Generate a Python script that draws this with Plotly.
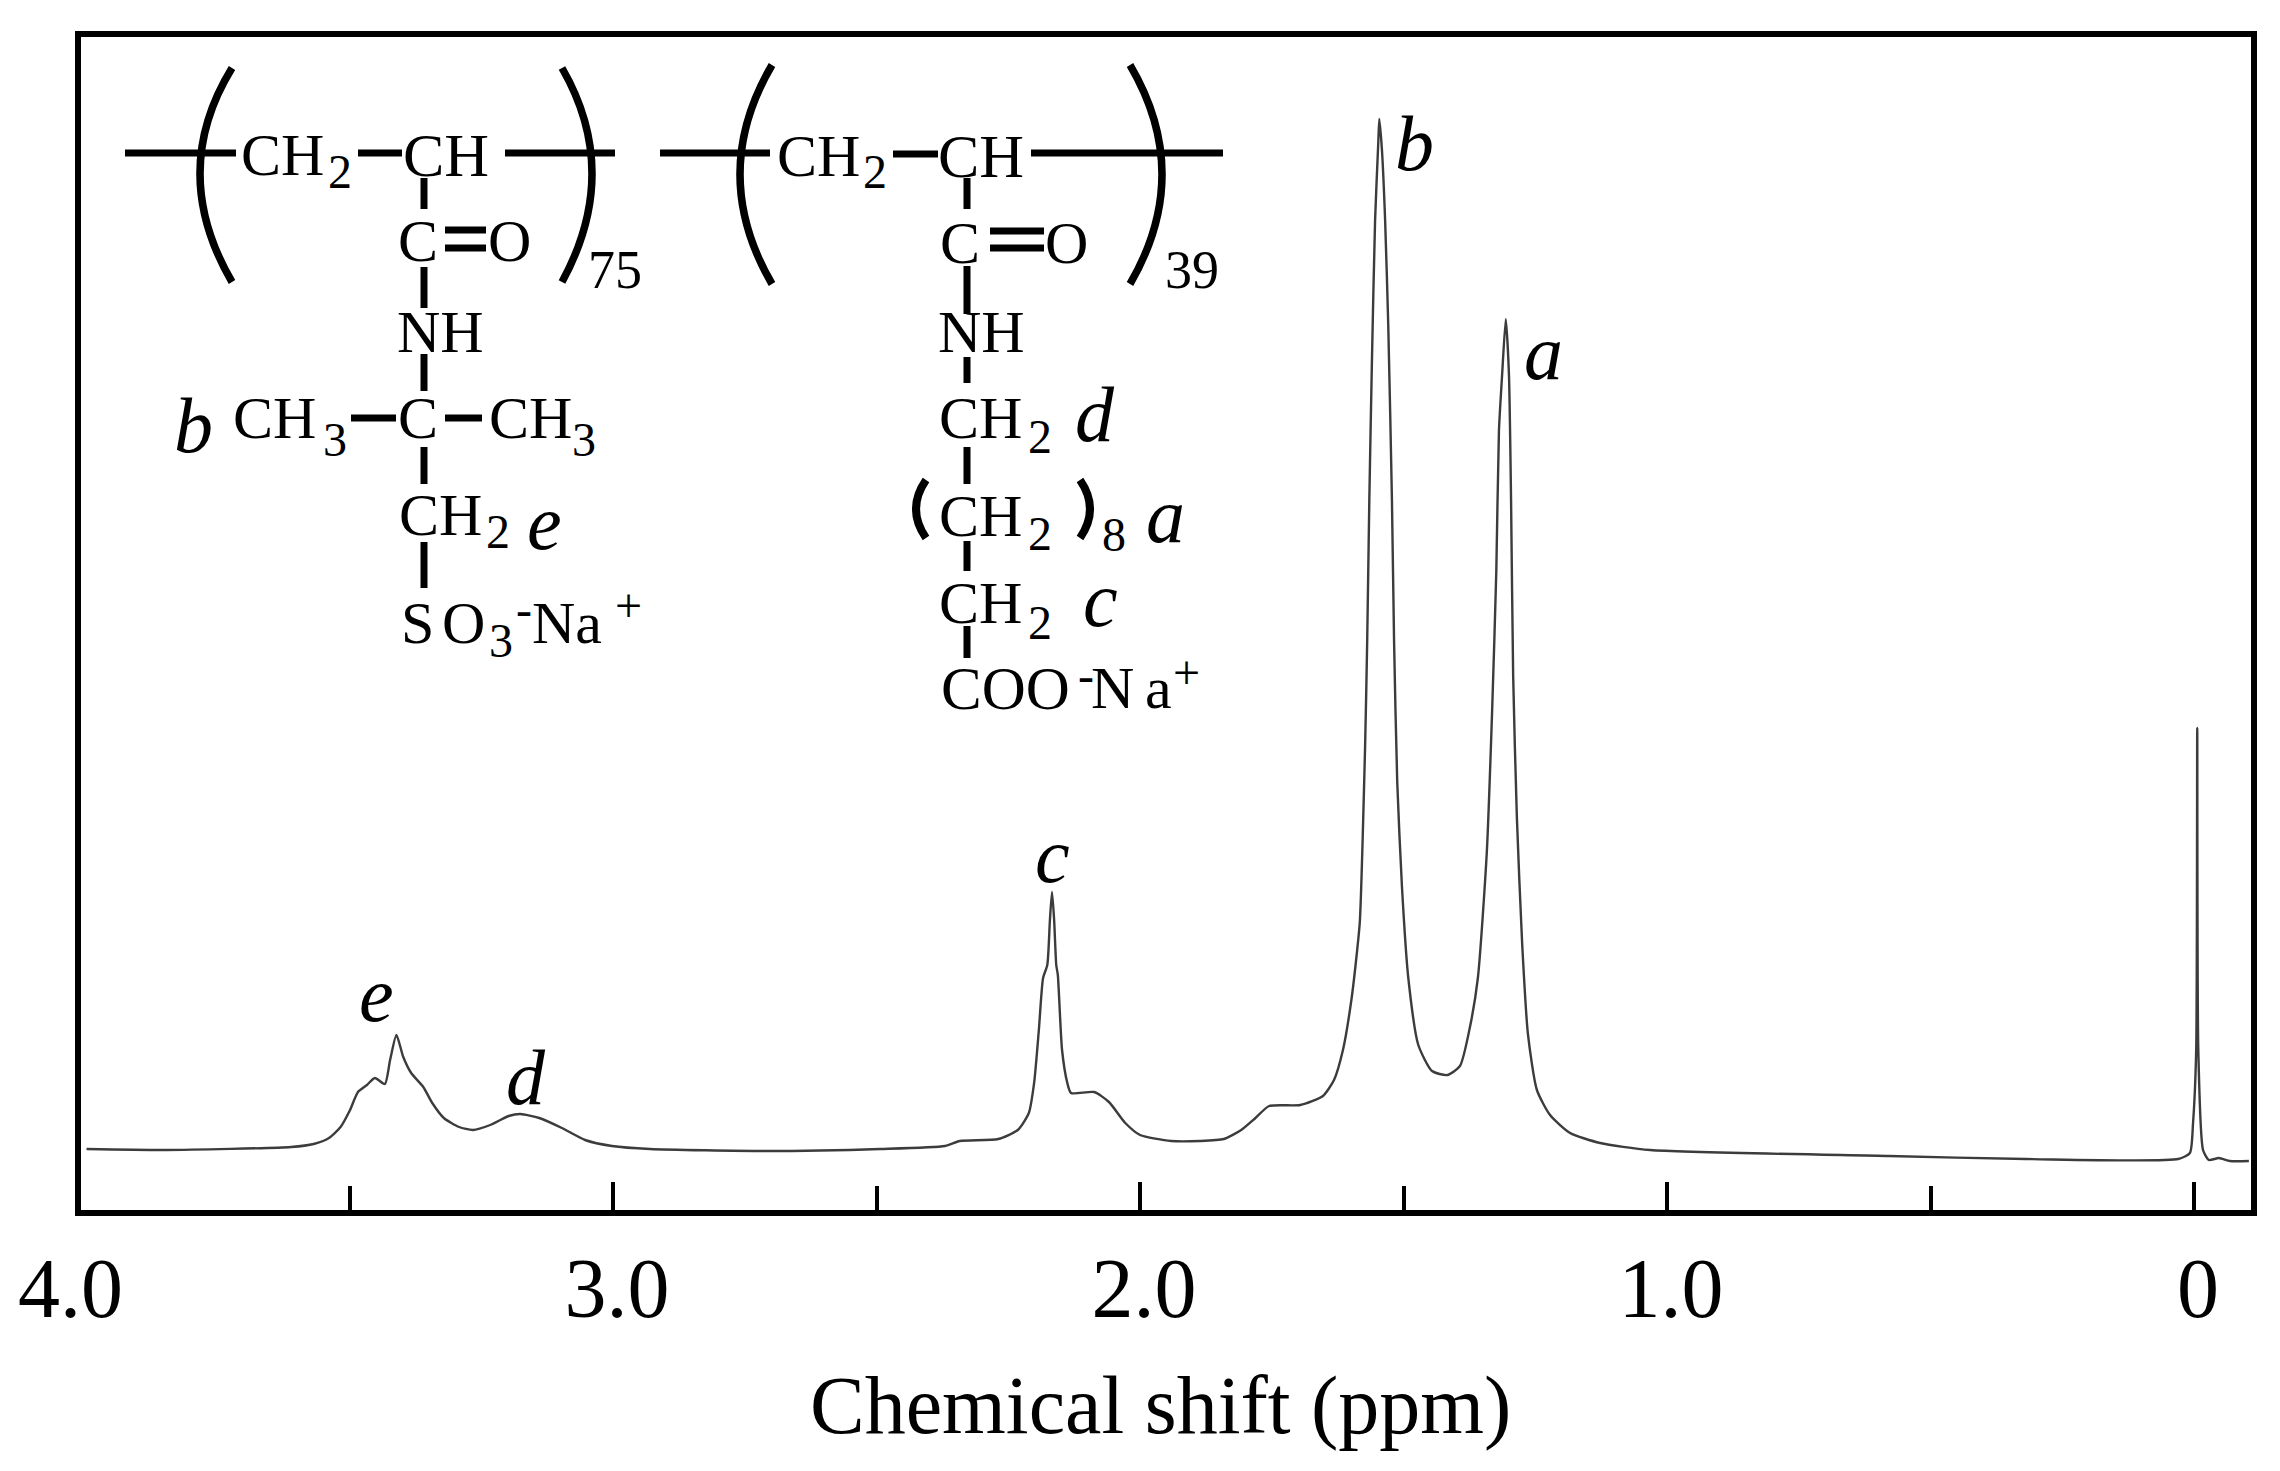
import plotly.graph_objects as go

# 1H NMR spectrum, intensity in arbitrary units
ppm = [3.999, 3.85, 3.611, 3.568, 3.539, 3.517, 3.499, 3.484, 3.467, 3.452, 3.433, 3.423, 3.411, 3.398, 3.383,
       3.360, 3.343, 3.321, 3.292, 3.266, 3.233, 3.198, 3.176, 3.140, 3.097, 3.053, 3.002, 2.930, 2.712, 2.493,
       2.370, 2.342, 2.269, 2.232, 2.211, 2.201, 2.192, 2.184, 2.176, 2.171, 2.167, 2.163, 2.159, 2.156, 2.148,
       2.138, 2.131, 2.087, 2.059, 2.028, 2.000, 1.941, 1.886, 1.841, 1.808, 1.781, 1.755, 1.696, 1.653, 1.632,
       1.615, 1.599, 1.588, 1.583, 1.573, 1.569, 1.565, 1.560, 1.554, 1.548, 1.546, 1.541, 1.535, 1.529, 1.522,
       1.518, 1.512, 1.503, 1.491, 1.472, 1.446, 1.417, 1.393, 1.374, 1.359, 1.342, 1.332, 1.324, 1.319, 1.313,
       1.306, 1.300, 1.296, 1.292, 1.285, 1.275, 1.264, 1.247, 1.222, 1.184, 1.127, 1.032, 0.579, 0.319,
       0.030, 0.008, 0.002, -0.004, -0.006, -0.008, -0.017, -0.028, -0.047, -0.068, -0.104]
intensity = [6.4, 6.3, 6.6, 6.9, 7.5, 8.6, 10.3, 12.1, 12.8, 13.5, 12.9, 15.3, 17.8, 15.6, 14.0,
             12.6, 11.0, 9.5, 8.6, 8.3, 8.8, 9.7, 9.9, 9.5, 8.5, 7.3, 6.7, 6.4, 6.2, 6.4,
             6.7, 7.2, 7.4, 8.3, 10.0, 13.0, 18.3, 23.5, 24.8, 29.3, 32.1, 29.3, 24.8, 23.8, 16.3,
             13.0, 12.0, 12.1, 11.1, 9.0, 7.8, 7.2, 7.2, 7.4, 8.3, 9.5, 10.7, 10.8, 11.7, 13.3,
             16.3, 21.3, 26.3, 29.1, 46.6, 57.2, 71.2, 85.2, 99.3, 107.0, 109.4, 106.3, 99.3, 88.7, 71.2,
             57.2, 43.1, 32.6, 23.5, 16.8, 14.2, 13.8, 14.7, 18.6, 23.5, 36.1, 50.1, 64.2, 78.2, 83.8,
             89.4, 83.8, 71.2, 53.7, 39.6, 27.0, 17.9, 12.3, 9.8, 8.0, 7.0, 6.3, 5.7, 5.4,
             5.4, 6.0, 9.0, 16.3, 48.5, 16.3, 6.3, 5.3, 5.5, 5.2, 5.2]

major_ticks = [3.0, 2.0, 1.0, 0]
major_labels = ['3.0', '2.0', '1.0', '0']
minor_ticks = [3.5, 2.5, 1.5, 0.5]

peak_labels = ['e', 'd', 'c', 'b', 'a']
peak_x = [3.449, 3.165, 2.167, 1.48, 1.235]
peak_y = [21.85, 13.6, 35.8, 107.0, 86.1]

# page has an 8 px body margin, so the figure is 8 px smaller and everything lands on page pixels
W, H = 2272, 1463
L, R, T, B = 81, 2251, 37, 1210
FONT = 'Liberation Serif'


def fx(px):
    return (px - L) / (R - L)


def fy(py):
    return (B - py) / (B - T)


def bond(x0, y0, x1, y1, width=7):
    return dict(type='line', xref='paper', yref='paper', x0=fx(x0), y0=fy(y0), x1=fx(x1), y1=fy(y1),
                line=dict(color='black', width=width), layer='above')


def paren(xtip, ytop, xmid, ymid, ybot, width=7.5):
    # quadratic control point is pushed past the mid point so the curve goes through it
    cx = 2 * xmid - xtip
    path = f'M {fx(xtip)} {fy(ytop)} Q {fx(cx)} {fy(ymid)} {fx(xtip)} {fy(ybot)}'
    return dict(type='path', xref='paper', yref='paper', path=path,
                line=dict(color='black', width=width), layer='above')


def label(text, px, py, size=60, italic=False):
    return dict(text=text, xref='paper', yref='paper', x=fx(px), y=fy(py), xanchor='center', yanchor='middle',
                showarrow=False, font=dict(family=FONT, size=size, color='black',
                                           style='italic' if italic else 'normal'))


shapes = [
    # left unit
    bond(125, 153, 236, 153), bond(358, 153, 402, 153), bond(505, 153, 615, 153),
    bond(424, 178, 424, 209), bond(445, 230, 486, 230), bond(445, 248, 486, 248),
    bond(424, 267, 424, 308), bond(424, 354, 424, 391), bond(351, 418, 396, 418),
    bond(445, 418, 482, 418), bond(424, 447, 424, 484), bond(424, 542, 424, 588),
    paren(232, 68, 200, 172, 282), paren(562, 68, 592, 172, 282),
    # right unit
    bond(660, 153, 770, 153), bond(893, 154, 938, 154), bond(1031, 153, 1223, 153),
    bond(967, 178, 967, 209), bond(990, 231, 1044, 231), bond(990, 248, 1044, 248),
    bond(967, 266, 967, 314), bond(967, 357, 967, 383), bond(967, 447, 967, 484),
    bond(967, 541, 967, 571), bond(967, 626, 967, 658),
    paren(772, 65, 740, 174, 284), paren(1130, 65, 1162, 174, 284),
    paren(926, 480, 916, 509, 538, width=8), paren(1080, 480, 1090, 509, 538, width=8),
]

annotations = [
    # left unit
    label('CH', 282, 155), label('2', 340, 172, 48),
    label('CH', 446, 155, 62), label('C', 418, 241), label('O', 509, 241),
    label('75', 615, 270, 54), label('NH', 440, 332),
    label('b', 193, 426, 78, True), label('CH', 274, 418), label('3', 335, 439, 48),
    label('C', 418, 418), label('CH', 530, 418), label('3', 584, 439, 48),
    label('CH', 440, 515), label('2', 498, 531, 48), label('e', 544, 522, 78, True),
    label('S', 417, 623), label('O', 463, 623), label('3', 501, 640, 48),
    label('-', 524, 609, 48), label('Na', 567, 623), label('+', 628, 605, 48),
    # right unit
    label('CH', 818, 156), label('2', 875, 172, 48),
    label('CH', 981, 156, 62), label('C', 960, 243), label('O', 1066, 243),
    label('39', 1192, 270, 54), label('NH', 981, 332),
    label('CH', 980, 418), label('2', 1040, 437, 48), label('d', 1095, 414, 78, True),
    label('CH', 980, 516), label('2', 1040, 533, 48), label('8', 1114, 534, 48),
    label('a', 1165, 515, 78, True),
    label('CH', 980, 603), label('2', 1040, 622, 48), label('c', 1100, 599, 78, True),
    label('COO', 1005, 688, 61), label('-', 1086, 676, 48), label('N', 1112, 688), label('a', 1158, 688),
    label('+', 1186, 672, 48),
    # no tick under this one, it sits on the frame
    label('4.0', 70, 1288, 84),
]

for text, x, y in zip(peak_labels, peak_x, peak_y):
    annotations.append(dict(text=text, x=x, y=y, xref='x', yref='y', xanchor='center', yanchor='middle',
                            showarrow=False, font=dict(family=FONT, size=78, color='black', style='italic')))

annotations.append(label('Chemical shift (ppm)', 1160, 1405, 82))

fig = go.Figure(go.Scatter(x=ppm, y=intensity, mode='lines',
                           line=dict(color='#3c3c3c', width=2.4, shape='spline', smoothing=0.6),
                           showlegend=False))

fig.update_layout(width=W, height=H, margin=dict(l=L - 8, r=W - (R - 8), t=T - 8, b=H - (B - 8), pad=0),
                  paper_bgcolor='white', plot_bgcolor='white', showlegend=False,
                  font=dict(family=FONT, color='black'), shapes=shapes, annotations=annotations)

# axis runs high to low, so a negative shift moves the labels to the right on the page
fig.update_xaxes(range=[4.0095, -0.108], tickmode='array', tickvals=major_ticks, ticktext=major_labels,
                 ticks='inside', ticklen=28, tickwidth=4, tickcolor='black', ticklabelshift=-4,
                 tickfont=dict(family=FONT, size=84, color='black'),
                 minor=dict(tickmode='array', tickvals=minor_ticks, ticks='inside', ticklen=24, tickwidth=4,
                            tickcolor='black'),
                 showgrid=False, zeroline=False, showline=True, linecolor='black', linewidth=6, mirror=True)
fig.update_yaxes(range=[0.3, 117.6], showticklabels=False, ticks='', showgrid=False, zeroline=False,
                 showline=True, linecolor='black', linewidth=6, mirror=True)

fig.write_html("out.html")
